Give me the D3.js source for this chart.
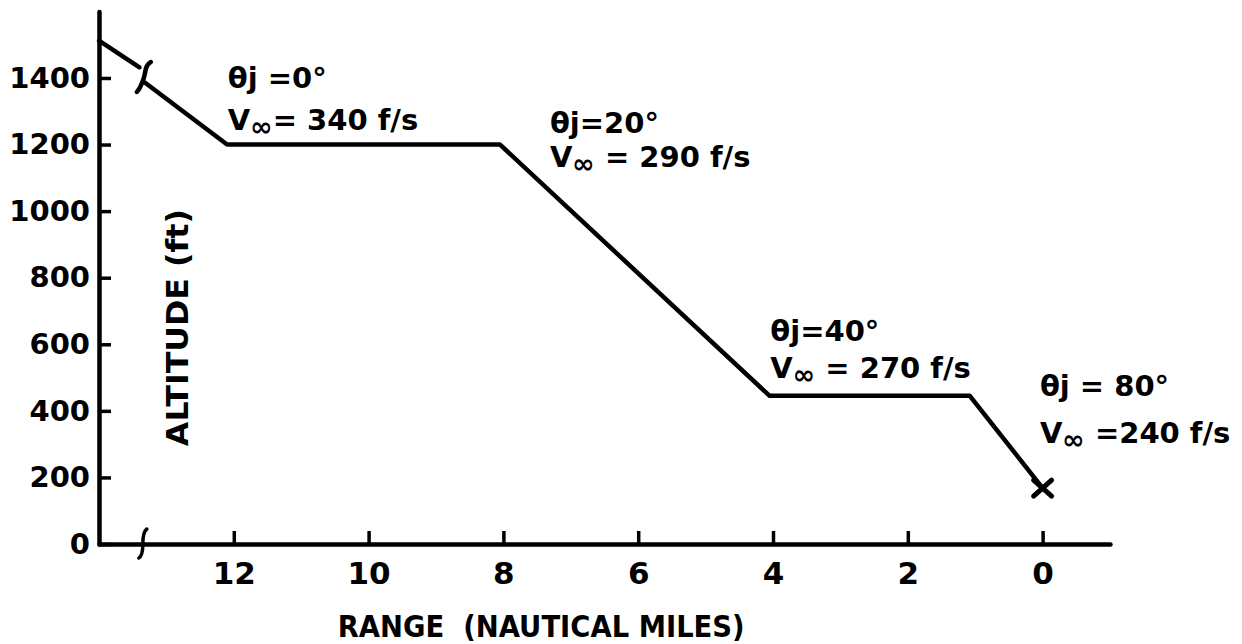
<!DOCTYPE html>
<html>
<head>
<meta charset="utf-8">
<script src="https://cdn.jsdelivr.net/npm/d3@7"></script>
<style>
  html, body { margin: 0; padding: 0; background: #fff; }
  svg { display: block; }
  text { font-family: "DejaVu Sans", sans-serif; font-weight: bold; fill: #000; }
</style>
</head>
<body>
<svg id="chart" width="1242" height="644"></svg>
<script>
// ---- data ----
const xTicks = [12, 10, 8, 6, 4, 2, 0];
const yTicks = [0, 200, 400, 600, 800, 1000, 1200, 1400];
// flight path (range nm, altitude ft), split at the axis break
const pathUpperRange = [14, 13.4];
const pathUpperAlt   = [1512, 1432];
const pathLowerRange = [13.33, 12.1, 8.05, 4.05, 1.08, 0];
const pathLowerAlt   = [1388, 1200, 1200, 445, 445, 168];
const endRange = [0];
const endAlt = [168];
const breakRange = 13.35;
const breakAlt = 1400;
// annotations
const noteTheta = ["θj =0°", "θj=20°", "θj=40°", "θj = 80°"];
const noteVvalue = ["= 340 f/s", " = 290 f/s", " = 270 f/s", " =240 f/s"];
const noteRange = [12.09, 7.31, 4.04, 0.04];
const noteThetaAlt = [1370, 1235, 610, 445];
const noteVAlt = [1244, 1132, 499, 303];
const xTitle = "RANGE  (NAUTICAL MILES)";
const yTitle = "ALTITUDE (ft)";

// ---- layout ----
const svg = d3.select("#chart");
const x = d3.scaleLinear().domain([14, -1]).range([99, 1110]);
const y = d3.scaleLinear().domain([0, 1600]).range([544, 11.4]);

// axes
const gx = svg.append("g").attr("transform", `translate(0,${y(0)})`)
  .call(d3.axisBottom(x).tickValues(xTicks).tickSizeInner(-13).tickSizeOuter(0).tickPadding(18).tickFormat(d3.format("d")));
const gy = svg.append("g").attr("transform", `translate(${x(14)},0)`)
  .call(d3.axisLeft(y).tickValues(yTicks).tickSizeInner(-12).tickSizeOuter(0).tickPadding(9).tickFormat(d3.format("d")));

[gx, gy].forEach(g => {
  g.select(".domain").attr("stroke", "#000").attr("stroke-width", 4.5).attr("stroke-linecap", "round");
  g.selectAll(".tick line").attr("stroke", "#000").attr("stroke-width", 3.5);
  g.selectAll(".tick text").attr("font-size", 29).attr("font-family", "DejaVu Sans").attr("font-weight", "bold").attr("fill", "#000");
});
gx.selectAll(".tick text").attr("font-size", 31).attr("dy", "0.72em");

// x-axis break mark
const bx = x(breakRange), by0 = y(0);
svg.append("path")
  .attr("d", `M${bx + 4},${by0 - 15} C${bx},${by0 - 12} ${bx},${by0 - 4} ${bx},${by0} C${bx},${by0 + 4} ${bx},${by0 + 12} ${bx - 4},${by0 + 14}`)
  .attr("fill", "none").attr("stroke", "#000").attr("stroke-width", 3.5).attr("stroke-linecap", "round");

// flight path
const line = d3.line().x(d => x(d[0])).y(d => y(d[1]));
const upper = pathUpperRange.map((r, i) => [r, pathUpperAlt[i]]);
const lower = pathLowerRange.map((r, i) => [r, pathLowerAlt[i]]);
[upper, lower].forEach(seg => {
  svg.append("path").attr("d", line(seg))
    .attr("fill", "none").attr("stroke", "#000").attr("stroke-width", 4.5)
    .attr("stroke-linejoin", "round").attr("stroke-linecap", "round");
});
// path break squiggle
const sx = x(breakRange), sy = y(breakAlt);
svg.append("path")
  .attr("d", `M${sx + 8},${sy - 16} C${sx + 2},${sy - 13} ${sx + 3},${sy - 6} ${sx + 1},${sy} C${sx - 1},${sy + 6} ${sx - 3},${sy + 11} ${sx - 6},${sy + 14}`)
  .attr("fill", "none").attr("stroke", "#000").attr("stroke-width", 4.5).attr("stroke-linecap", "round");

// end marker (X)
endRange.forEach((r, i) => {
  const cx = x(r), cy = y(endAlt[i]);
  svg.append("path")
    .attr("d", `M${cx - 9},${cy - 8} L${cx + 9},${cy + 8} M${cx + 9},${cy - 8} L${cx - 9},${cy + 8}`)
    .attr("stroke", "#000").attr("stroke-width", 5).attr("stroke-linecap", "round");
});

// annotations
noteTheta.forEach((t, i) => {
  svg.append("text").attr("x", x(noteRange[i])).attr("y", y(noteThetaAlt[i]))
    .attr("font-size", 29).text(t);
  const v = svg.append("text").attr("x", x(noteRange[i])).attr("y", y(noteVAlt[i])).attr("font-size", 29)
    .style("white-space", "pre");
  v.append("tspan").text("V");
  v.append("tspan").attr("dy", 6).attr("font-size", 27).text("∞");
  v.append("tspan").attr("dy", -6).text(noteVvalue[i]);
});

// axis titles
svg.append("text").attr("x", x(7.44)).attr("y", 637)
  .attr("text-anchor", "middle").attr("font-size", 30).style("white-space", "pre")
  .attr("textLength", 407).attr("lengthAdjust", "spacingAndGlyphs").text(xTitle);
svg.append("text").attr("transform", `translate(188,${y(650)}) rotate(-90)`)
  .attr("text-anchor", "middle").attr("font-size", 30)
  .attr("textLength", 237).attr("lengthAdjust", "spacingAndGlyphs").text(yTitle);
</script>
</body>
</html>
